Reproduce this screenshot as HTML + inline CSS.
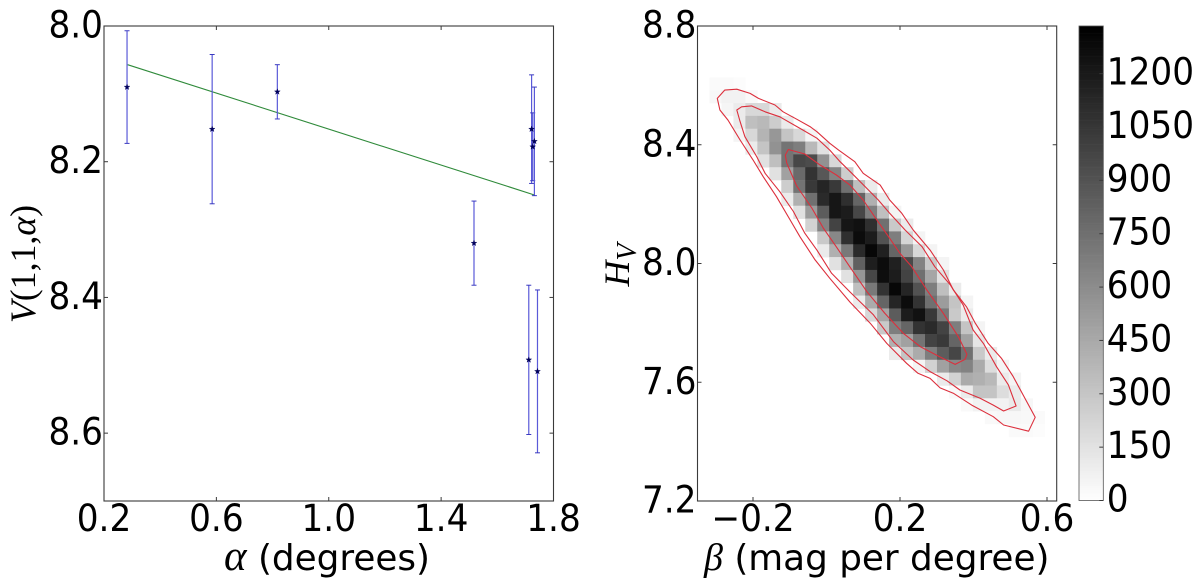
<!DOCTYPE html>
<html>
<head>
<meta charset="utf-8">
<style>
html,body{margin:0;padding:0;background:#fff;}
svg{display:block;}
text{font-family:"DejaVu Sans","Liberation Sans",sans-serif;fill:#000;}
.tick-label{font-size:34.3px;}
.axis-title{font-size:35.8px;}
.math{font-family:"Liberation Serif","DejaVu Serif",serif;font-style:italic;}
.roman{font-family:"Liberation Serif","DejaVu Serif",serif;}
</style>
</head>
<body>
<svg id="figure" width="1200" height="579" viewBox="0 0 1200 579" xmlns="http://www.w3.org/2000/svg">
  <rect width="1200" height="579" fill="#fff"/>
  <g id="left-panel"></g>
  <g id="right-panel"></g>
  <g id="colorbar"></g>
  <text class="axis-title" x="224" y="570"><tspan class="math" font-size="43">α</tspan> (degrees)</text>
  <text class="axis-title" transform="translate(35 264) rotate(-90)" text-anchor="middle" font-size="42"><tspan class="math">V</tspan><tspan class="roman">(1,1,</tspan><tspan class="math">α</tspan><tspan class="roman">)</tspan></text>
  <text class="axis-title" x="704" y="570"><tspan class="math" font-size="38">β</tspan> (mag per degree)</text>
  <text class="axis-title" transform="translate(629 265) rotate(-90)" text-anchor="middle" font-size="41"><tspan class="math">H</tspan><tspan class="math" font-size="28" dy="7">V</tspan></text>
</svg>
<script>
// ---- left chart data ----
const phaseAngles = [0.282, 0.585, 0.817, 1.517, 1.712, 1.743, 1.722, 1.726, 1.732];
const reducedMags = [8.090, 8.152, 8.097, 8.320, 8.492, 8.509, 8.152, 8.178, 8.170];
const magErrors = [0.083, 0.110, 0.040, 0.062, 0.110, 0.120, 0.080, 0.050, 0.080];
const fitAngles = [0.284, 1.732];
const fitMags = [8.057, 8.249];
const leftXTicks = [0.2, 0.6, 1.0, 1.4, 1.8];
const leftYTicks = [8.0, 8.2, 8.4, 8.6];
const leftXDomain = [0.2, 1.8];
const leftYDomain = [8.0, 8.7];

// ---- right chart data ----
const betaDomain = [-0.351, 0.6264];
const hvDomain = [8.8, 7.2];
const betaBinCount = 30;
const hvBinCount = 37;
const rightXTicks = [-0.2, 0.2, 0.6];
const rightYTicks = [8.8, 8.4, 8.0, 7.6, 7.2];
const colorMax = 1334;
const colorTicks = [0, 150, 300, 450, 600, 750, 900, 1050, 1200];
// first occupied row of the histogram, and first occupied beta bin in each row
const heatFirstRow = 4;
const heatFirstBin = [1,1,2,3,3,4,5,6,7,7,8,9,10,10,11,12,13,13,14,15,16,16,18,20,21,22,24,26];
const heatCounts = [
  [25,25,15],
  [40,70,70,30],
  [50,105,205,205,105],
  [105,335,365,260,105],
  [60,205,390,545,310,205,60],
  [105,310,570,725,675,365,155],
  [155,335,725,960,935,570,205],
  [155,490,780,1065,880,650,260],
  [260,725,1035,1140,1035,750,335,105],
  [105,415,750,1115,1220,1090,805,415,105],
  [155,520,855,1220,1190,960,675,335,60],
  [235,650,985,1220,1245,1090,750,285,105],
  [285,620,1090,1270,1190,905,675,220,60],
  [105,415,700,1115,1295,1165,805,545,205,60],
  [155,415,830,1175,1270,1165,950,650,285,60],
  [155,545,960,1260,1190,985,750,465,155],
  [335,700,1065,1295,1140,905,675,335,105],
  [105,440,805,1140,1270,1065,750,520,310,60],
  [205,465,855,1190,1245,1035,700,285,105],
  [285,675,805,1065,1115,985,675,310,60],
  [415,490,725,985,1035,805,490,130],
  [105,310,440,675,855,970,750,285,105],
  [60,235,490,620,650,440,180,60],
  [105,235,440,415,365,105,60],
  [30,105,310,310,180,105],
  [30,70,70,70,110,40],
  [30,40,40,35,25],
  [25,25,15]
];
const outerBeta = [-.297,-.277,-.244,-.208,-.185,-.140,-.118,-.081,-.045,-.026,.009,.033,.077,.100,.146,.172,.205,.236,.282,.318,.345,.381,.405,.440,.476,.508,.540,.568,.550,.482,.454,.395,.345,.309,.282,.249,.218,.164,.119,.064,.009,-.031,-.072,-.099,-.136,-.172,-.200,-.235,-.268,-.290];
const outerHv = [8.556,8.584,8.587,8.573,8.556,8.534,8.511,8.486,8.461,8.444,8.405,8.382,8.343,8.304,8.264,8.214,8.169,8.113,8.045,7.978,7.911,7.854,7.799,7.731,7.681,7.619,7.546,7.482,7.435,7.456,7.484,7.523,7.563,7.581,7.613,7.630,7.664,7.731,7.799,7.870,7.950,8.012,8.090,8.147,8.225,8.292,8.349,8.416,8.483,8.517];
const middleBeta = [-.244,-.231,-.204,-.167,-.127,-.072,-.026,.009,.037,.069,.105,.141,.172,.214,.260,.295,.337,.372,.399,.427,.463,.495,.516,.482,.454,.418,.363,.328,.282,.236,.182,.128,.064,.014,-.026,-.059,-.090,-.127,-.167,-.190,-.222,-.235];
const middleHv = [8.517,8.528,8.531,8.511,8.494,8.455,8.422,8.382,8.343,8.304,8.259,8.214,8.169,8.113,8.057,7.989,7.928,7.860,7.776,7.731,7.652,7.591,7.520,7.503,7.523,7.546,7.574,7.605,7.636,7.675,7.737,7.827,7.904,7.967,8.045,8.102,8.175,8.242,8.304,8.360,8.427,8.478];
const innerBeta = [-.112,-.104,-.059,-.018,.027,.064,.100,.137,.172,.200,.232,.273,.318,.359,.382,.377,.350,.309,.255,.209,.159,.110,.064,.027,-.009,-.040,-.081,-.108];
const innerHv = [8.365,8.384,8.369,8.332,8.298,8.264,8.214,8.147,8.085,8.034,7.989,7.911,7.832,7.753,7.694,7.677,7.660,7.685,7.720,7.765,7.832,7.905,7.988,8.056,8.120,8.187,8.261,8.338];

// ---- layout ----
const NS = 'http://www.w3.org/2000/svg';
const LB = {l:104, r:553.5, t:26, b:501};
const RB = {l:697.5, r:1056.7, t:26, b:501};
const CB = {l:1079, r:1103.3, t:26, b:500.5};
const FRAME = '#3a3a3a';
const LABEL_STRETCH = 1.1;

function make(tag, attrs, parent){
  const el = document.createElementNS(NS, tag);
  for (const k in attrs) el.setAttribute(k, attrs[k]);
  parent.appendChild(el);
  return el;
}
function linear(domain, range){
  return v => range[0] + (v - domain[0]) / (domain[1] - domain[0]) * (range[1] - range[0]);
}
function gray(v){
  const g = Math.round(255 * (1 - Math.min(v, colorMax) / colorMax));
  return 'rgb(' + g + ',' + g + ',' + g + ')';
}
function labelAt(x, y){
  return 'translate(' + x + ' ' + y + ') scale(1 ' + LABEL_STRETCH + ')';
}

const leftX = linear(leftXDomain, [LB.l, LB.r]);
const leftY = linear(leftYDomain, [LB.t, LB.b]);
const rightX = linear(betaDomain, [RB.l, RB.r]);
const rightY = linear(hvDomain, [RB.t, RB.b]);
const colorY = linear([0, colorMax], [CB.b, CB.t]);

function drawFrame(parent, box){
  const f = make('rect', {x:box.l, y:box.t, width:box.r-box.l, height:box.b-box.t, fill:'none', stroke:FRAME, 'stroke-width':1.1}, parent);
  
  
}
function drawXTicks(parent, ticks, scale, box, fmt){
  ticks.forEach(t => {
    const x = scale(t);
    [[box.b, box.b-4],[box.t, box.t+4]].forEach(p => {
      const m = make('line', {x1:x, x2:x, y1:p[0], y2:p[1], stroke:FRAME, 'stroke-width':1}, parent);
      
      
    });
    const lab = make('text', {transform:labelAt(x, box.b+30), 'text-anchor':'middle', class:'tick-label'}, parent);
    
    
    lab.textContent = fmt(t);
  });
}
function drawYTicks(parent, ticks, scale, box){
  ticks.forEach(t => {
    const y = scale(t);
    [[box.l, box.l+4],[box.r, box.r-4]].forEach(p => {
      const m = make('line', {x1:p[0], x2:p[1], y1:y, y2:y, stroke:FRAME, 'stroke-width':1}, parent);
      
      
    });
    const lab = make('text', {transform:labelAt(box.l-1, y+11.5), 'text-anchor':'end', class:'tick-label'}, parent);
    
    
    lab.textContent = t.toFixed(1);
  });
}
function signed(t){
  return (t < 0 ? '\u2212' : '') + Math.abs(t).toFixed(1);
}

// ---- left panel ----
const left = document.getElementById('left-panel');
const fit = make('line', {x1:leftX(fitAngles[0]), y1:leftY(fitMags[0]), x2:leftX(fitAngles[1]), y2:leftY(fitMags[1]), stroke:'#2f8a3a', 'stroke-width':1.1}, left);


phaseAngles.forEach((a, i) => {
  const x = leftX(a);
  const y0 = leftY(reducedMags[i] - magErrors[i]);
  const y1 = leftY(reducedMags[i] + magErrors[i]);
  const bar = make('line', {x1:x, x2:x, y1:y0, y2:y1, stroke:'#5a5ad8', 'stroke-width':1.2}, left);
  
  
  [y0, y1].forEach(cy => {
    const cap = make('line', {x1:x-2.5, x2:x+2.5, y1:cy, y2:cy, stroke:'#3a3ac0', 'stroke-width':1}, left);
    
    
  });
});
phaseAngles.forEach((a, i) => {
  const x = leftX(a), y = leftY(reducedMags[i]);
  let pts = [];
  for (let k = 0; k < 10; k++) {
    const r = k % 2 ? 1.2 : 3;
    const th = -Math.PI/2 + k*Math.PI/5;
    pts.push((x + r*Math.cos(th)).toFixed(2) + ',' + (y + r*Math.sin(th)).toFixed(2));
  }
  const star = make('polygon', {points:pts.join(' '), fill:'#00005a', stroke:'#00005a', 'stroke-width':0.4}, left);
  
  
});
drawFrame(left, LB);
drawXTicks(left, leftXTicks, leftX, LB, t => t.toFixed(1));
drawYTicks(left, leftYTicks, leftY, LB);

// ---- right panel ----
const right = document.getElementById('right-panel');
const betaStep = (betaDomain[1] - betaDomain[0]) / betaBinCount;
const hvStep = (hvDomain[1] - hvDomain[0]) / hvBinCount;
heatCounts.forEach((row, r) => {
  const rowIndex = heatFirstRow + r;
  const yTop = rightY(hvDomain[0] + rowIndex * hvStep);
  const yBot = rightY(hvDomain[0] + (rowIndex + 1) * hvStep);
  row.forEach((count, c) => {
    const binIndex = heatFirstBin[r] + c;
    const xL = rightX(betaDomain[0] + binIndex * betaStep);
    const xR = rightX(betaDomain[0] + (binIndex + 1) * betaStep);
    const cell = make('rect', {x:xL, y:yTop, width:xR-xL+0.3, height:yBot-yTop+0.3, fill:gray(count)}, right);
    
    
  });
});
[[outerBeta, outerHv, 'contour-outer'], [middleBeta, middleHv, 'contour-middle'], [innerBeta, innerHv, 'contour-inner']].forEach(c => {
  const pts = c[0].map((b, i) => rightX(b).toFixed(1) + ',' + rightY(c[1][i]).toFixed(1)).join(' ');
  const poly = make('polygon', {points:pts, fill:'none', stroke:'#dc2f3c', 'stroke-width':1.1, 'stroke-linejoin':'round'}, right);
  
  
});
drawFrame(right, RB);
drawXTicks(right, rightXTicks, rightX, RB, signed);
drawYTicks(right, rightYTicks, rightY, RB);

// ---- colorbar ----
const cb = document.getElementById('colorbar');
for (let v = 0; v < colorMax; v += 6) {
  const yTop = colorY(Math.min(v + 6, colorMax));
  const yBot = colorY(v);
  const band = make('rect', {x:CB.l, y:yTop, width:CB.r-CB.l, height:yBot-yTop+0.3, fill:gray(v + 3)}, cb);
  
  
}
const cbFrame = make('rect', {x:CB.l, y:CB.t, width:CB.r-CB.l, height:CB.b-CB.t, fill:'none', stroke:'#555', 'stroke-width':0.8}, cb);


colorTicks.forEach(t => {
  const y = colorY(t);
  const m = make('line', {x1:CB.r-4, x2:CB.r, y1:y, y2:y, stroke:FRAME, 'stroke-width':1}, cb);
  
  
  const lab = make('text', {transform:labelAt(CB.r+3.5, y+11), class:'tick-label'}, cb);
  
  
  lab.textContent = String(t);
});
</script>
</body>
</html>
